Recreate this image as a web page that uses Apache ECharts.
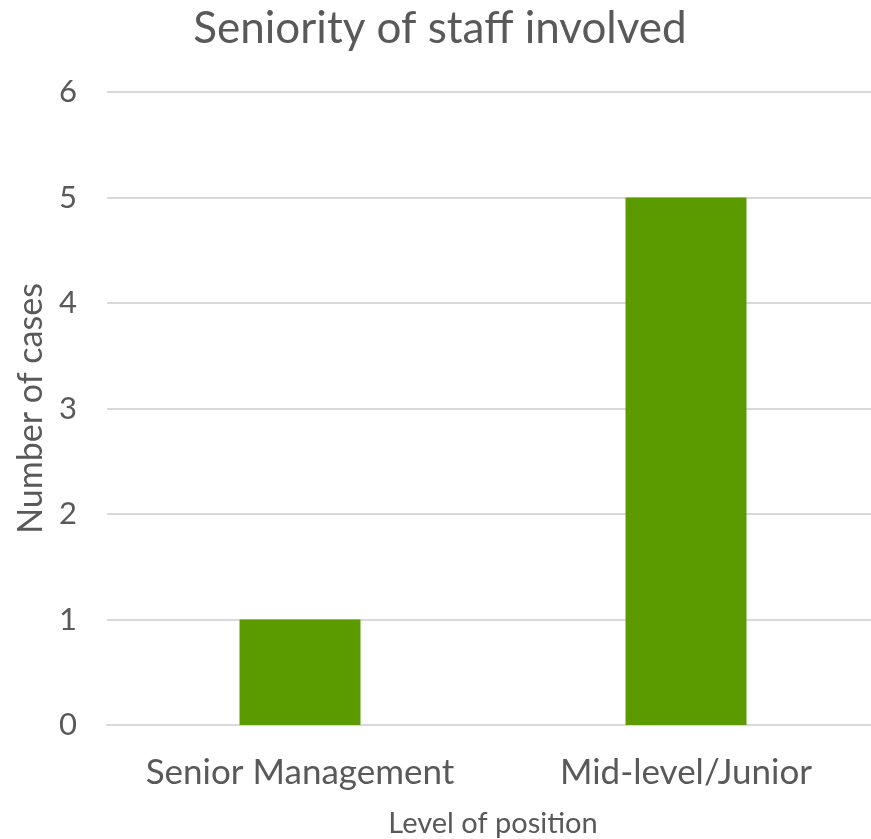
<!DOCTYPE html>
<html><head><meta charset="utf-8">
<script src="https://cdn.jsdelivr.net/npm/echarts@6/dist/echarts.min.js"></script>
<style>html,body{margin:0;padding:0;background:#fff}#c{width:871px;height:839px}</style>
</head><body><div id="c"></div>
<script>
const categories = ["Senior Management", "Mid-level/Junior"];
const cases = [1, 5];
const yTicks = [0, 1, 2, 3, 4, 5, 6];

const FONT = "Lato";
const chart = echarts.init(document.getElementById('c'));
chart.setOption({
  animation: false,
  title: {
    text: "Seniority of staff involved",
    left: 435, textAlign: 'center', top: 2,
    textStyle: {fontFamily: FONT, fontSize: 44, fontWeight: 'normal', color: '#595959'}
  },
  grid: {left: 107, top: 92, width: 772, height: 633, outerBoundsMode: 'none', containLabel: false},
  xAxis: {
    type: 'category', data: categories,
    name: "Level of position", nameLocation: 'middle', nameGap: 84,
    nameTextStyle: {fontFamily: FONT, fontSize: 29, color: '#595959'},
    axisLine: {show: true, lineStyle: {color: '#d9d9d9', width: 2}},
    axisTick: {show: false},
    axisLabel: {fontFamily: FONT, fontSize: 35, color: '#595959', margin: 30, interval: 0}
  },
  yAxis: {
    type: 'value', min: yTicks[0], max: yTicks[yTicks.length-1], interval: 1,
    name: "Number of cases", nameLocation: 'middle', nameGap: 58, nameRotate: 90,
    nameTextStyle: {fontFamily: FONT, fontSize: 34, color: '#595959'},
    axisLine: {show: false}, axisTick: {show: false},
    axisLabel: {fontFamily: FONT, fontSize: 31, color: '#595959', margin: 30},
    splitLine: {lineStyle: {color: '#d9d9d9', width: 2}}
  },
  series: [{
    type: 'bar', data: cases, barWidth: 121,
    itemStyle: {color: '#5B9B00'}
  }]
});
</script></body></html>
